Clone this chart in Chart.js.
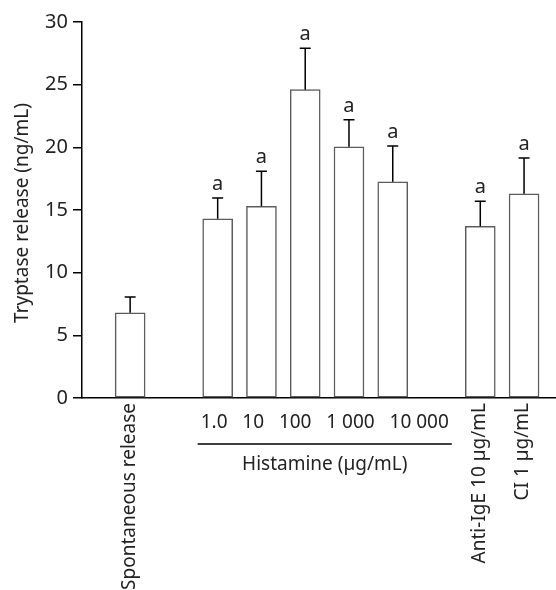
<!DOCTYPE html>
<html>
<head>
<meta charset="utf-8">
<script src="https://cdn.jsdelivr.net/npm/chart.js@4"></script>
<style>
  html, body { margin: 0; padding: 0; background: #fff; }
  #wrap { width: 556px; height: 590px; }
</style>
</head>
<body>
<div id="wrap"><canvas id="chart" width="556" height="590"></canvas></div>
<script>
// data
const categories = ['Spontaneous release', '1.0', '10', '100', '1 000', '10 000', 'Anti-IgE 10 µg/mL', 'CI 1 µg/mL'];
const slots = [0, 2, 3, 4, 5, 6, 8, 9];           // position on the x axis (gaps between groups)
const means = [6.8, 14.3, 15.3, 24.6, 20.05, 17.25, 13.7, 16.3];
const sds = [1.25, 1.65, 2.8, 3.3, 2.15, 2.85, 2.0, 2.85];
const marks = ['', 'a', 'a', 'a', 'a', 'a', 'a', 'a'];
const rotatedLabels = [0, 6, 7];                  // indices whose label is written vertically
const histamineIdx = [1, 2, 3, 4, 5];
const groupTitle = 'Histamine (µg/mL)';
const yTitle = 'Tryptase release (ng/mL)';
const yMin = 0, yMax = 30, yStep = 5;

const FONT = '"Noto Sans", "DejaVu Sans", sans-serif';
const TXT = '#222';

const annotate = {
  id: 'annotate',
  afterDatasetsDraw(chart) {
    const ctx = chart.ctx;
    const xs = chart.scales.x, ys = chart.scales.y;
    const area = chart.chartArea;
    ctx.save();
    ctx.fillStyle = TXT;
    ctx.strokeStyle = '#000';
    ctx.lineWidth = 1.5;

    // error bars + significance letters
    means.forEach((m, i) => {
      const cx = xs.getPixelForValue(slots[i]);
      const y0 = ys.getPixelForValue(m);
      const y1 = ys.getPixelForValue(m + sds[i]);
      ctx.beginPath();
      ctx.moveTo(cx, y0); ctx.lineTo(cx, y1);
      ctx.moveTo(cx - 5.5, y1); ctx.lineTo(cx + 5.5, y1);
      ctx.stroke();
      if (marks[i]) {
        ctx.font = '20px ' + FONT;
        ctx.textAlign = 'center';
        ctx.textBaseline = 'alphabetic';
        ctx.fillText(marks[i], cx, y1 - 8);
      }
    });

    // vertical category labels
    ctx.font = '19px ' + FONT;
    rotatedLabels.forEach(i => {
      const cx = xs.getPixelForValue(slots[i]);
      ctx.save();
      ctx.translate(cx - 1, area.bottom + 5);
      ctx.rotate(-Math.PI / 2);
      ctx.textAlign = 'right';
      ctx.textBaseline = 'middle';
      ctx.fillText(categories[i], 0, 0);
      ctx.restore();
    });

    // histamine concentrations as one row of text
    const doses = histamineIdx.map(i => categories[i]).join('   ');
    const left = xs.getPixelForValue(slots[histamineIdx[0]]) - 17;
    ctx.textAlign = 'left';
    ctx.textBaseline = 'middle';
    ctx.fillText(doses, left, area.bottom + 25);
    const w = ctx.measureText(doses).width;
    const lineY = area.bottom + 46;
    ctx.beginPath();
    ctx.moveTo(left - 3, lineY); ctx.lineTo(left + w + 3, lineY);
    ctx.stroke();
    ctx.textAlign = 'center';
    ctx.fillText(groupTitle, left + w / 2, lineY + 21);

    // y axis title
    ctx.save();
    ctx.translate(23, (area.top + area.bottom) / 2 + 3);
    ctx.rotate(-Math.PI / 2);
    ctx.textAlign = 'center';
    ctx.textBaseline = 'middle';
    ctx.fillText(yTitle, 0, 0);
    ctx.restore();

    ctx.restore();
  }
};

new Chart(document.getElementById('chart'), {
  type: 'bar',
  data: {
    datasets: [{
      data: slots.map((s, i) => ({ x: s, y: means[i] })),
      backgroundColor: '#fff',
      borderColor: '#5c5c5c',
      borderWidth: 1.5,
      borderSkipped: false,
      barThickness: 30
    }]
  },
  options: {
    responsive: false,
    animation: false,
    layout: { padding: { top: 22, right: 0, left: 0, bottom: 0 } },
    plugins: { legend: { display: false }, tooltip: { enabled: false } },
    scales: {
      x: {
        type: 'linear',
        offset: false,
        min: -1.1,
        max: 9.73,
        grid: { display: false, offset: false },
        ticks: { display: false },
        border: { display: true, color: '#000', width: 1.5 },
        afterFit(scale) { scale.height = 192; }
      },
      y: {
        min: yMin,
        max: yMax,
        ticks: { stepSize: yStep, color: TXT, font: { family: FONT, size: 20 }, padding: 5 },
        grid: { drawOnChartArea: false, drawTicks: true, tickLength: 9, color: '#000', lineWidth: 1.5 },
        border: { display: true, color: '#000', width: 1.5 },
        afterFit(scale) { scale.width = 82; }
      }
    }
  },
  plugins: [annotate]
});
</script>
</body>
</html>
